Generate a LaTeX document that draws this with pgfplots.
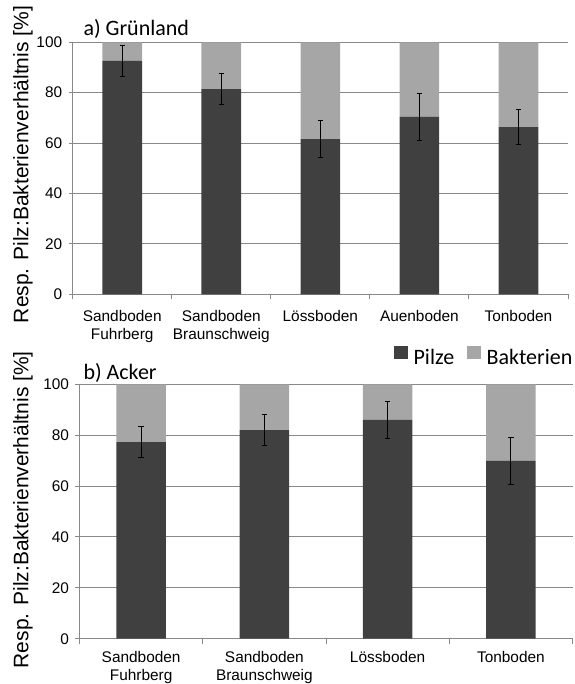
\documentclass[border=0pt]{standalone}
\usepackage{pgfplots}
\pgfplotsset{compat=1.18}
\usepackage{fontspec}
\setmainfont{Liberation Sans}
\newfontfamily\calibri{Carlito}
\definecolor{pilz}{HTML}{404040}
\definecolor{bakt}{HTML}{A6A6A6}
\definecolor{gridc}{HTML}{888888}
\begin{document}
\begin{tikzpicture}[x=1pt,y=1pt]
\useasboundingbox (0pt,0pt) rectangle (574pt,684pt);
\pgfplotsset{
  mystyle/.style={
    scale only axis,
    ybar stacked,
    bar width=0.4,
    ymin=0, ymax=100, ytick={0,20,...,100},
    axis x line*=bottom, axis y line*=left,
    axis line style={gridc, line width=0.9pt},
    ymajorgrids, grid style={gridc, line width=0.9pt},
    tick align=outside,
    major tick length=4pt,
    minor tick length=5pt,
    tick style={gridc, line width=0.9pt},
    every major x tick/.append style={draw=none},
    /pgf/number format/assume math mode=true,
    tick label style={font=\fontsize{15.4}{18}\selectfont},
    x tick label style={align=center},
    y tick label style={xshift=-3pt},
    legend image code/.code={\fill[##1] (0pt,-1pt) rectangle (13.4pt,12.3pt);},
  },
  pilzbar/.style={fill=pilz, draw=none,
    error bars/.cd, y dir=both, y explicit,
    error bar style={black, line width=1pt},
    error mark options={black, mark size=2.7pt, line width=1pt, rotate=90}},
  baktbar/.style={fill=bakt, draw=none},
}
% ---------- a) Gruenland ----------
\begin{axis}[mystyle,
  at={(72.7pt,389.7pt)}, anchor=south west,
  width=495.3pt, height=252pt,
  xmin=-0.5, xmax=4.5,
  xtick={0,1,2,3,4},
  xticklabels={{Sandboden\\Fuhrberg},{Sandboden\\Braunschweig},{Lössboden},{Auenboden},{Tonboden}},
  x tick label style={yshift=-9pt},
  minor xtick={-0.5,0.5,1.5,2.5,3.5,4.5},
]
\addplot[pilzbar] coordinates {(0,92.6) +- (0,6.1) (1,81.4) +- (0,6.1) (2,61.6) +- (0,7.4) (3,70.5) +- (0,9.3) (4,66.3) +- (0,6.9)};
\addplot[baktbar] coordinates {(0,7.4) (1,18.6) (2,38.4) (3,29.5) (4,33.7)};
\end{axis}
% ---------- b) Acker ----------
\begin{axis}[mystyle,
  at={(79.5pt,45.3pt)}, anchor=south west,
  width=493pt, height=254.4pt,
  xmin=-0.5, xmax=3.5,
  xtick={0,1,2,3},
  xticklabels={{Sandboden\\Fuhrberg},{Sandboden\\Braunschweig},{Lössboden},{Tonboden}},
  x tick label style={yshift=-5.5pt},
  minor xtick={-0.5,0.5,1.5,2.5,3.5},
  legend columns=2,
  legend style={draw=none, fill=none, inner sep=0pt, at={(1,1.07)}, anchor=south east,
    nodes={inner sep=0pt},
    font=\calibri\fontsize{22}{26}\selectfont,
    /tikz/every odd column/.append style={column sep=6pt},
    /tikz/every even column/.append style={column sep=13pt}},
]
\addplot[pilzbar] coordinates {(0,77.3) +- (0,6.0) (1,82.0) +- (0,6.0) (2,86.0) +- (0,7.4) (3,69.9) +- (0,9.2)};
\addlegendentry{Pilze}
\addplot[baktbar] coordinates {(0,22.7) (1,18.0) (2,14.0) (3,30.1)};
\addlegendentry{Bakterien}
\end{axis}
% titles and y labels
\node[anchor=base west, inner sep=0pt, font=\calibri\fontsize{22}{26}\selectfont] at (83.3pt,648pt) {a) Grünland};
\node[anchor=base west, inner sep=0pt, font=\calibri\fontsize{22}{26}\selectfont] at (83.3pt,304pt) {b) Acker};
\node[rotate=90, anchor=base, inner sep=0pt, font=\fontsize{21}{25}\selectfont] at (28.3pt,519.5pt) {Resp. Pilz:Bakterienverhältnis [\%]};
\node[rotate=90, anchor=base, inner sep=0pt, font=\fontsize{21}{25}\selectfont] at (28.3pt,174.3pt) {Resp. Pilz:Bakterienverhältnis [\%]};
\end{tikzpicture}
\end{document}
